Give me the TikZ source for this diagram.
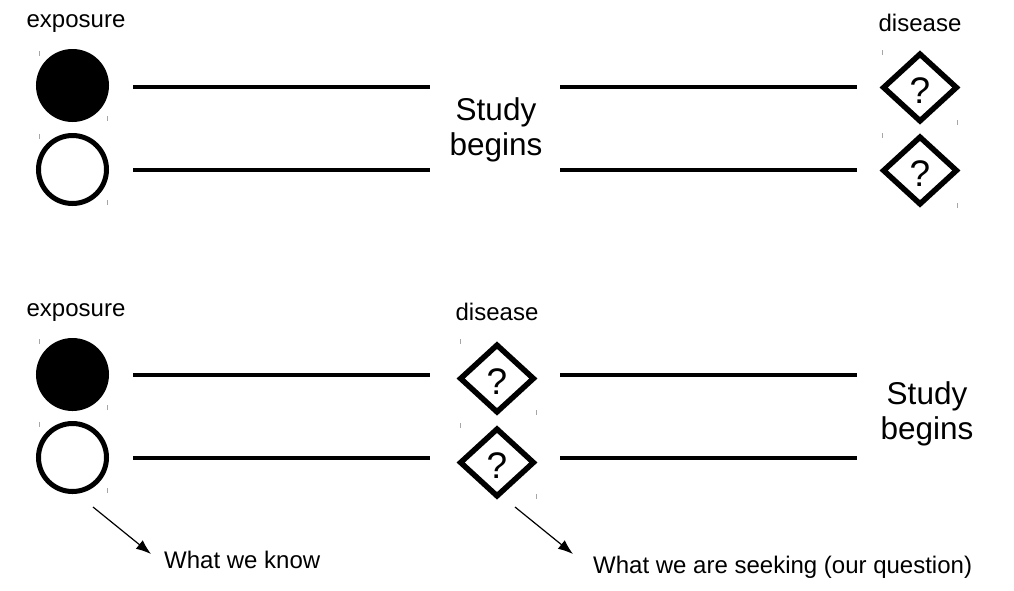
\documentclass[tikz,border=0pt]{standalone}
\usepackage{fontspec}
\setmainfont{Liberation Sans}
\usetikzlibrary{shapes.geometric,arrows.meta}
\newcommand{\qmark}{\raisebox{-15.5pt}[0pt][0pt]{?}}
\begin{document}
\begin{tikzpicture}[x=1pt,y=-1pt,
  lbl/.style={font=\fontsize{24}{28}\selectfont, inner sep=0pt, anchor=base},
  biglbl/.style={font=\fontsize{31.5}{36}\selectfont, inner sep=0pt, anchor=base},
  expo/.style={circle, draw, line width=5pt, minimum size=68pt, inner sep=0pt},
  dis/.style={diamond, draw, line width=5.5pt, minimum width=75pt, minimum height=69pt, inner sep=0pt, font=\fontsize{37}{42}\selectfont},
  timeline/.style={line width=4pt},
  handle/.style={gray!70, line width=1pt},
  pointer/.style={line width=1.2pt, -{Latex[length=15pt,width=11pt]}}
]
\useasboundingbox (0,0) rectangle (1014,590);

% ---------- top panel ----------
\node[lbl] (expoA) at (76,27) {exposure};
\node[lbl] (disA) at (920,31) {disease};
\node[expo, fill=black] (cA1) at (72.5,85.5) {};
\node[expo, fill=white] (cA2) at (72.5,169.5) {};
\node[dis] (dA1) at (920,87.5) {\qmark};
\node[dis] (dA2) at (920,170.5) {\qmark};
\node[biglbl] (sbA1) at (496,120) {Study};
\node[biglbl] (sbA2) at (496,155) {begins};

\coordinate (lA1a) at (133,87);  \coordinate (lA1b) at (430,87);
\coordinate (lA1c) at (560,87);  \coordinate (lA1d) at (857,87);
\coordinate (lA2a) at (133,170); \coordinate (lA2b) at (430,170);
\coordinate (lA2c) at (560,170); \coordinate (lA2d) at (857,170);
\draw[timeline] (lA1a) -- (lA1b);
\draw[timeline] (lA1c) -- (lA1d);
\draw[timeline] (lA2a) -- (lA2b);
\draw[timeline] (lA2c) -- (lA2d);

% handles
\draw[handle] (39,51) -- (39,56);   \draw[handle] (107,116) -- (107,121);
\draw[handle] (39,134) -- (39,139); \draw[handle] (107,200) -- (107,205);
\draw[handle] (882,50) -- (882,55); \draw[handle] (957,120) -- (957,125);
\draw[handle] (882,133) -- (882,138); \draw[handle] (957,203) -- (957,208);

% ---------- bottom panel ----------
\node[lbl] (expoB) at (76,316) {exposure};
\node[lbl] (disB) at (497,320) {disease};
\node[expo, fill=black] (cB1) at (72.5,374.5) {};
\node[expo, fill=white] (cB2) at (72.5,457.5) {};
\node[dis] (dB1) at (497,378.5) {\qmark};
\node[dis] (dB2) at (497,462.5) {\qmark};
\node[biglbl] (sbB1) at (927,404) {Study};
\node[biglbl] (sbB2) at (927,439) {begins};

\coordinate (lB1a) at (133,375);  \coordinate (lB1b) at (430,375);
\coordinate (lB1c) at (560,375);  \coordinate (lB1d) at (857,375);
\coordinate (lB2a) at (133,458); \coordinate (lB2b) at (430,458);
\coordinate (lB2c) at (560,458); \coordinate (lB2d) at (857,458);
\draw[timeline] (lB1a) -- (lB1b);
\draw[timeline] (lB1c) -- (lB1d);
\draw[timeline] (lB2a) -- (lB2b);
\draw[timeline] (lB2c) -- (lB2d);

\draw[handle] (39,339) -- (39,344);   \draw[handle] (107,405) -- (107,410);
\draw[handle] (39,422) -- (39,427);   \draw[handle] (107,488) -- (107,493);
\draw[handle] (460,339) -- (460,344); \draw[handle] (536,410) -- (536,415);
\draw[handle] (460,423) -- (460,428); \draw[handle] (536,494) -- (536,499);

% ---------- annotations ----------
\node[lbl, anchor=base west] (know) at (164,568) {What we know};
\node[lbl, anchor=base west] (seek) at (593,573) {What we are seeking (our question)};
\coordinate (kA) at (93,507);  \coordinate (kB) at (151,554);
\coordinate (sA) at (515,507); \coordinate (sB) at (573,554);
\draw[pointer] (kA) -- (kB);
\draw[pointer] (sA) -- (sB);
\end{tikzpicture}
\end{document}
